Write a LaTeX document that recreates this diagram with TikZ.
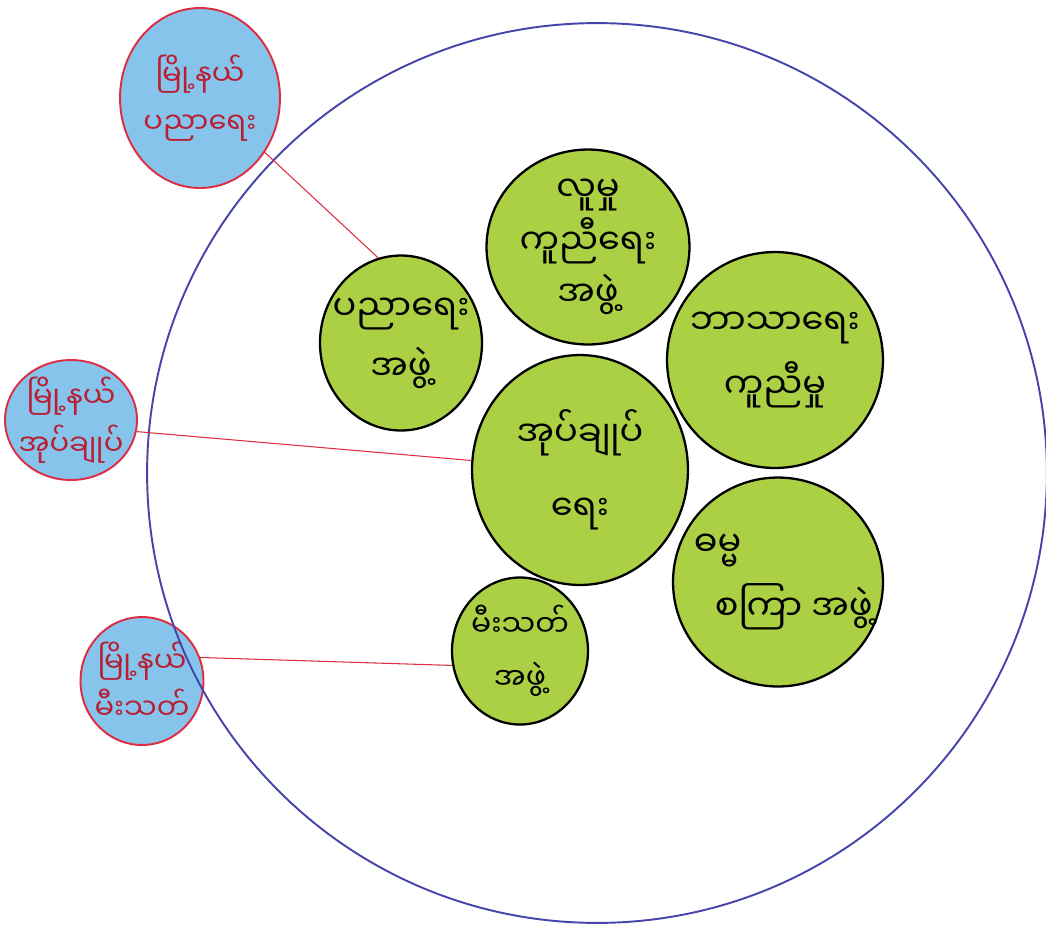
\documentclass[tikz,border=0pt]{standalone}
\usepackage{fontspec}
\newfontfamily\mmfont[Script=Myanmar]{Noto Sans Myanmar UI}
\usetikzlibrary{shapes.geometric, positioning}
\definecolor{ringblue}{RGB}{70,70,170}
\definecolor{leafgreen}{RGB}{172,208,68}
\definecolor{skyblue}{RGB}{135,196,236}
\definecolor{penred}{RGB}{222,45,65}
\definecolor{inkred}{RGB}{185,30,50}
\tikzset{
    group/.style={ellipse, draw=black, line width=1.3pt, fill=leafgreen, inner sep=-12pt, align=center, font=\mmfont\fontsize{20}{30}\selectfont},
    office/.style={ellipse, draw=penred, line width=1.1pt, fill=skyblue, inner sep=-10pt, align=center, text=inkred, font=\mmfont\fontsize{16.5}{27}\selectfont},
    link/.style={penred, line width=0.6pt},
}

\begin{document}
\begin{tikzpicture}[x=0.02cm, y=-0.02cm]
\useasboundingbox (0,0) rectangle (1046,931);

% Township offices (outside)
\node[office, minimum width=3.2cm, minimum height=3.6cm] (eduB) at (200,98) {မြို့နယ်\\ပညာရေး};
\node[office, minimum width=2.64cm, minimum height=2.4cm] (admB) at (71,420) {မြို့နယ်\\အုပ်ချုပ်};
\node[office, minimum width=2.46cm, minimum height=2.56cm] (fireB) at (142,681) {မြို့နယ်\\မီးသတ်};

% Community ring
\node[circle, draw=ringblue, line width=1.1pt, minimum size=18cm, inner sep=0pt] (ring) at (597,473) {};

% Groups inside the ring
\node[group, minimum width=3.24cm, minimum height=3.5cm] (eduG) at (401,343) {ပညာရေး\\[4pt]အဖွဲ့};
\node[group, minimum width=4.06cm, minimum height=3.9cm] (socG) at (588,247) {လူမှု\\ကူညီရေး\\အဖွဲ့};
\node[group, minimum width=4.32cm, minimum height=4.32cm] (relG) at (775,360) {ဘာသာရေး\\[6pt]ကူညီမှု};
\node[group, minimum width=4.32cm, minimum height=4.6cm] (admG) at (580,470) {အုပ်ချုပ်\\[12pt]ရေး};
\node[group, minimum width=4.2cm, minimum height=4.18cm, align=left] (dhmG) at (778,582) {\hspace*{6pt}ဓမ္မ\\[6pt]\hspace*{18pt}စကြာ အဖွဲ့};
\node[group, minimum width=2.72cm, minimum height=2.94cm, font=\mmfont\fontsize{17}{30}\selectfont] (fireG) at (520,651) {မီးသတ်\\အဖွဲ့};

% Links
\draw[link] (eduB.-40) -- (eduG.105);
\draw[link] (admB.-10) -- (admG.175);
\draw[link] (fireB.22) -- (fireG.192);

\end{tikzpicture}
\end{document}
